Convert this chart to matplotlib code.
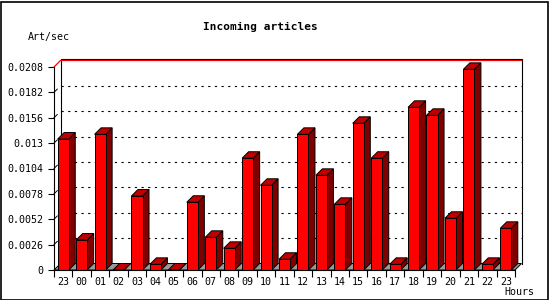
import numpy as np
import matplotlib
matplotlib.use('Agg')
from matplotlib import pyplot as plt
from matplotlib.patches import Polygon, Rectangle

# data
hours = ['23', '00', '01', '02', '03', '04', '05', '06', '07', '08', '09', '10', '11',
         '12', '13', '14', '15', '16', '17', '18', '19', '20', '21', '22', '23']
rates = [0.01342, 0.00307, 0.0139, 0.0, 0.00758, 0.00058, 0.0, 0.00694, 0.00335,
         0.00222, 0.01145, 0.00868, 0.0011, 0.0139, 0.0097, 0.00673, 0.01503,
         0.01145, 0.00058, 0.01667, 0.01585, 0.0053, 0.02056, 0.00058, 0.00427]
y_ticks = [0, 0.0026, 0.0052, 0.0078, 0.0104, 0.013, 0.0156, 0.0182, 0.0208]
y_labels = ['0', '0.0026', '0.0052', '0.0078', '0.0104', '0.013', '0.0156', '0.0182', '0.0208']
y_max = 0.0208

W, H = 550, 300
ax_l, ax_r, ax_b, ax_t = 54, 515, 270, 67   # pixel box of the front plane
depth = 6.5                                  # 3d depth in pixels

font = 'DejaVu Sans Mono'
plt.rcParams['font.family'] = font

fig = plt.figure(figsize=(W / 100, H / 100), dpi=100)
ax = fig.add_axes([ax_l / W, (H - ax_b) / H, (ax_r - ax_l) / W, (ax_b - ax_t) / H])
n = len(rates)
ax.set_xlim(-0.5, n - 0.5)
ax.set_ylim(0, y_max)
ax.patch.set_visible(False)

dx = depth * n / (ax_r - ax_l)
dy = depth * y_max / (ax_b - ax_t)
x0, x1 = -0.5, n - 0.5

# floor and back plane
ax.add_patch(Polygon([(x0, 0), (x1, 0), (x1 + dx, dy), (x0 + dx, dy)], closed=True,
                     facecolor='#999999', edgecolor='black', lw=0.7, clip_on=False, zorder=1))
ax.plot([x0 + dx, x0 + dx, x1 + dx, x1 + dx], [dy, y_max + dy + 0.00012, y_max + dy + 0.00012, dy],
        color='black', lw=0.8, clip_on=False, zorder=1)
for v in y_ticks[1:-1]:
    ax.plot([x0 + dx, x1 + dx], [v + dy, v + dy], color='black', lw=0.8,
            ls=(0, (2, 4)), clip_on=False, zorder=1)
    ax.plot([x0, x0 + dx * 0.5], [v, v + dy * 0.5], color='black', lw=0.7, clip_on=False, zorder=1)
ax.plot([x0, x0 + dx, x1 + dx], [y_max, y_max + dy, y_max + dy], color='red', lw=0.9,
        clip_on=False, zorder=2)

# 3d bars
bw = 0.6
for i, v in enumerate(rates):
    l, r = i - bw / 2, i + bw / 2
    ax.add_patch(Polygon([(r, 0), (r + dx, dy), (r + dx, v + dy), (r, v)], closed=True,
                         facecolor='#800000', edgecolor='black', lw=0.7, clip_on=False, zorder=3))
    ax.add_patch(Polygon([(l, v), (r, v), (r + dx, v + dy), (l + dx, v + dy)], closed=True,
                         facecolor='#c00000', edgecolor='black', lw=0.7, clip_on=False, zorder=3))
    if v > 0:
        ax.add_patch(Rectangle((l, 0), bw, v, facecolor='#ff0000', edgecolor='black',
                               lw=0.7, clip_on=False, zorder=4))

# axes
for s in ['top', 'right']:
    ax.spines[s].set_visible(False)
for s in ['left', 'bottom']:
    ax.spines[s].set_linewidth(0.8)
    ax.spines[s].set_zorder(5)
ax.set_yticks(y_ticks)
ax.set_yticklabels(y_labels)
ax.set_xticks(np.arange(n))
ax.set_xticklabels(hours)
ax.set_xticks(np.arange(n + 1) - 0.5, minor=True)
ax.tick_params(axis='y', length=4, width=0.8, pad=4, labelsize=7.2)
ax.tick_params(axis='x', which='major', length=0, pad=5, labelsize=7.2)
ax.tick_params(axis='x', which='minor', length=5, width=0.8)

fig.text(260 / W, 1 - 27 / H, 'Incoming articles', ha='center', va='center',
         fontsize=8, fontweight='bold', family=font)
fig.text(28 / W, 1 - 37 / H, 'Art/sec', ha='left', va='center', fontsize=7.2, family=font)
fig.text(534 / W, 1 - 292 / H, 'Hours', ha='right', va='center', fontsize=7.2, family=font)
fig.add_artist(Rectangle((0.5 / W, 0.5 / H), 1 - 2.5 / W, 1 - 2.5 / H, transform=fig.transFigure,
                         fill=False, edgecolor='black', lw=1.2))

fig.savefig('out.png', dpi=100)
